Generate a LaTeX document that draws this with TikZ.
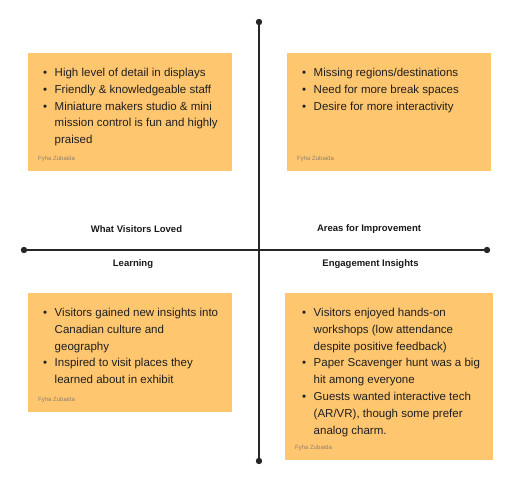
\documentclass[tikz,border=0pt]{standalone}
\usepackage{fontspec}
\setmainfont{Liberation Sans}
\usepackage{tikz}
\usetikzlibrary{calc}
\usepackage{tkz-euclide}

\definecolor{stickyfill}{RGB}{255,198,112}
\definecolor{axisgray}{RGB}{38,38,38}
\definecolor{signgray}{RGB}{140,128,110}

\tikzset{
  sticky/.style={fill=stickyfill, anchor=north west, inner sep=0pt},
  notes/.style={anchor=north west, inner sep=0pt, font=\fontsize{11.5}{16.8}\selectfont, text=black!88},
  sign/.style={anchor=base west, inner sep=0pt, font=\fontsize{6}{7}\selectfont, text=signgray},
  quad/.style={inner sep=0pt, font=\fontsize{9.5}{11}\selectfont\bfseries, text=black!90}
}

\begin{document}
\begin{tikzpicture}[x=1pt,y=1pt]
                \useasboundingbox (0,0) rectangle (517,492);
                % axes
                \tkzDefPoints{259/470/N, 259/31/S, 24/242/W, 487/242/E}
                \tkzDrawSegments[axisgray, line width=2pt](N,S W,E)
                \foreach \p in {N,S,W,E} \fill[axisgray] (\p) circle (3.2);
                % quadrant titles
                \node[quad] (loved) at (136.5,263) {What Visitors Loved};
                \node[quad] (improve) at (369,263) {Areas for Improvement};
                \node[quad] (learn) at (133,228) {Learning};
                \node[quad] (engage) at (370.5,228) {Engagement Insights};
                % sticky notes
                \node[sticky, minimum width=204pt, minimum height=118pt] (tl) at (28,439) {};
                \node[sticky, minimum width=204pt, minimum height=118pt] (tr) at (287,439) {};
                \node[sticky, minimum width=204pt, minimum height=119pt] (bl) at (28,199) {};
                \node[sticky, minimum width=208pt, minimum height=167pt] (br) at (285,199) {};
                \node[notes] (tltext) at ($(tl.north west)+(15,-11.6)$) {\begin{tabular}{@{}l@{\hspace{7.5pt}}l@{}}
                    \textbullet & High level of detail in displays\\
                    \textbullet & Friendly \& knowledgeable staff\\
                    \textbullet & Miniature makers studio \& mini\\
                                & mission control is fun and highly\\
                                & praised
                  \end{tabular}};
                \node[notes] (trtext) at ($(tr.north west)+(15,-11.6)$) {\begin{tabular}{@{}l@{\hspace{7.5pt}}l@{}}
                    \textbullet & Missing regions/destinations\\
                    \textbullet & Need for more break spaces\\
                    \textbullet & Desire for more interactivity
                  \end{tabular}};
                \node[notes] (bltext) at ($(bl.north west)+(15,-11.6)$) {\begin{tabular}{@{}l@{\hspace{7.5pt}}l@{}}
                    \textbullet & Visitors gained new insights into\\
                                & Canadian culture and\\
                                & geography\\
                    \textbullet & Inspired to visit places they\\
                                & learned about in exhibit
                  \end{tabular}};
                \node[notes] (brtext) at ($(br.north west)+(17,-11.6)$) {\begin{tabular}{@{}l@{\hspace{7.5pt}}l@{}}
                    \textbullet & Visitors enjoyed hands-on\\
                                & workshops (low attendance\\
                                & despite positive feedback)\\
                    \textbullet & Paper Scavenger hunt was a big\\
                                & hit among everyone\\
                    \textbullet & Guests wanted interactive tech\\
                                & (AR/VR), though some prefer\\
                                & analog charm.
                  \end{tabular}};
                \foreach \n in {tl,tr,bl,br} \node[sign] (\n sign) at ($(\n.south west)+(10,11)$) {Fyha Zubaida};
            \end{tikzpicture}
\end{document}
